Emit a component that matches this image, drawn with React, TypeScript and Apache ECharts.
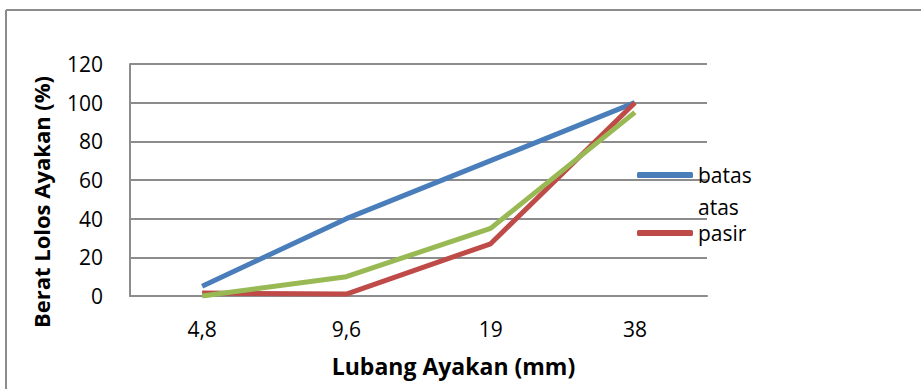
import React, { useEffect, useRef } from "react";
import * as echarts from "echarts";

const categories = ["4,8", "9,6", "19", "38"];
const batasAtas = [5, 40, 70, 100];
const pasir = [1.5, 1, 27, 100];
const batasBawah = [0, 10, 35, 95];
const yTicks = { min: 0, max: 120, interval: 20 };

const FONT = "'Open Sans', 'Liberation Sans', sans-serif";

export default function App() {
  const ref = useRef<HTMLDivElement>(null);
  useEffect(() => {
    if (!ref.current) return;
    const chart = echarts.init(ref.current, null, { renderer: "svg" });
    chart.setOption({
      animation: false,
      backgroundColor: "#ffffff",
      textStyle: { fontFamily: FONT },
      grid: { left: 130, right: 214, top: 64, bottom: 93, containLabel: false },
      graphic: [
        { type: "line", shape: { x1: 6, y1: 10, x2: 921, y2: 10 }, style: { stroke: "#8c8c8c", lineWidth: 2 } },
        { type: "line", shape: { x1: 6, y1: 10, x2: 6, y2: 389 }, style: { stroke: "#8c8c8c", lineWidth: 2 } },
      ],
      legend: [
        {
          data: ["batas atas"],
          left: 637,
          top: 127,
          padding: 0,
          orient: "vertical",
          itemWidth: 56,
          itemHeight: 6,
          icon: "roundRect",
          selectedMode: false,
          formatter: () => "\nbatas\natas",
          textStyle: { fontFamily: FONT, fontSize: 21, lineHeight: 32, color: "#000" },
        },
        {
          data: ["pasir"],
          left: 637,
          top: 217,
          padding: 0,
          orient: "vertical",
          itemWidth: 56,
          itemHeight: 6,
          icon: "roundRect",
          selectedMode: false,
          textStyle: { fontFamily: FONT, fontSize: 21, lineHeight: 32, color: "#000" },
        },
      ],
      xAxis: {
        type: "category",
        data: categories,
        boundaryGap: true,
        name: "Lubang Ayakan (mm)",
        nameLocation: "middle",
        nameGap: 58,
        nameTextStyle: { fontFamily: FONT, fontSize: 23, fontWeight: "bold", color: "#000", padding: [0, 0, 0, 70] },
        axisLine: { show: true, lineStyle: { color: "#8c8c8c", width: 2 } },
        axisTick: { show: false },
        axisLabel: { fontFamily: FONT, fontSize: 21, color: "#000", margin: 22 },
        splitLine: { show: false },
      },
      yAxis: {
        type: "value",
        min: yTicks.min,
        max: yTicks.max,
        interval: yTicks.interval,
        name: "Berat Lolos Ayakan (%)",
        nameLocation: "middle",
        nameGap: 78,
        nameTextStyle: { fontFamily: FONT, fontSize: 22, fontWeight: "bold", color: "#000", padding: [0, 44, 0, 0] },
        axisLine: { show: true, lineStyle: { color: "#8c8c8c", width: 2 } },
        axisTick: { show: false },
        axisLabel: { fontFamily: FONT, fontSize: 21, color: "#000", margin: 27 },
        splitLine: { show: true, lineStyle: { color: "#8c8c8c", width: 2 } },
      },
      series: [
        {
          name: "batas atas",
          type: "line",
          data: batasAtas,
          showSymbol: false,
          symbol: "none",
          color: "#4a7ebb",
          lineStyle: { width: 5, color: "#4a7ebb" },
        },
        {
          name: "pasir",
          type: "line",
          data: pasir,
          showSymbol: false,
          symbol: "none",
          color: "#be4b48",
          lineStyle: { width: 5, color: "#be4b48" },
        },
        {
          name: "batas bawah",
          type: "line",
          data: batasBawah,
          showSymbol: false,
          symbol: "none",
          color: "#98b954",
          lineStyle: { width: 5, color: "#98b954" },
        },
      ],
    });
    return () => chart.dispose();
  }, []);
  return (
    <div
      ref={ref}
      style={{ position: "fixed", left: 0, top: 0, width: 921, height: 389, background: "#fff" }}
    />
  );
}
